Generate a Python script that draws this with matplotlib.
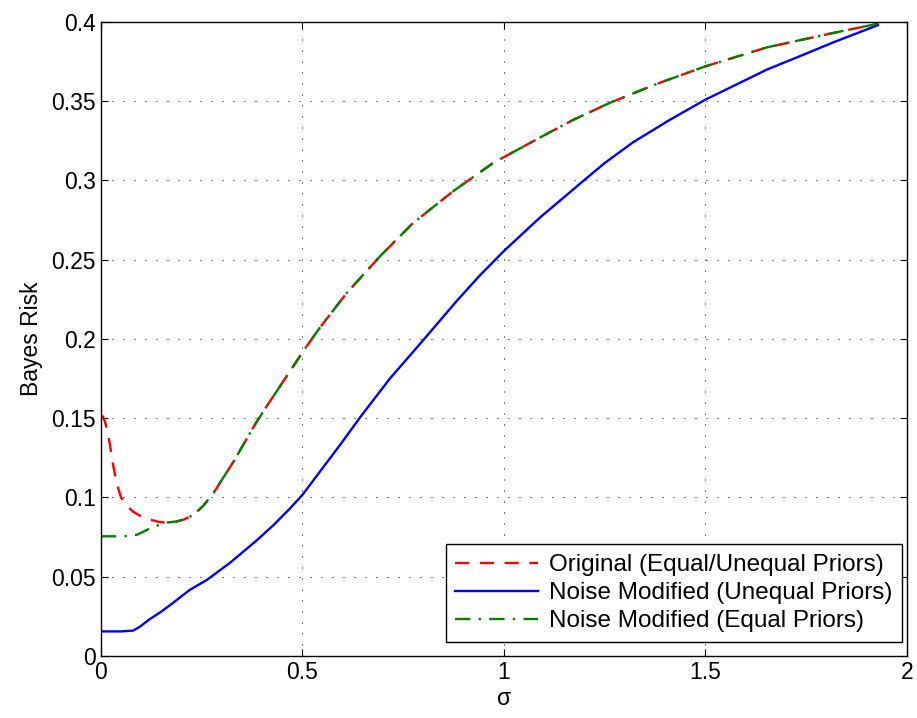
import matplotlib
matplotlib.use("Agg")
import matplotlib.pyplot as plt

plt.rcParams['font.family'] = ['Liberation Sans', 'DejaVu Sans']

# Original (Equal/Unequal Priors)
sig_orig = [0, 0.005, 0.01, 0.016, 0.022, 0.03, 0.039, 0.05, 0.06, 0.08, 0.10, 0.122,
            0.145, 0.165, 0.185, 0.205, 0.23, 0.255, 0.28, 0.305, 0.33, 0.355,
            0.38, 0.41, 0.444, 0.504, 0.543, 0.61, 0.692, 0.774, 0.873, 0.973,
            1.089, 1.17, 1.263, 1.38, 1.5, 1.653, 1.816, 1.93]
risk_orig = [0.152, 0.151, 0.148, 0.142, 0.134, 0.121, 0.109, 0.100, 0.096, 0.091, 0.088, 0.086,
             0.0845, 0.084, 0.0845, 0.086, 0.089, 0.095, 0.103, 0.113, 0.123, 0.134,
             0.145, 0.157, 0.170, 0.193, 0.207, 0.229, 0.252, 0.273, 0.293, 0.311,
             0.327, 0.338, 0.349, 0.361, 0.372, 0.384, 0.393, 0.399]

# Noise Modified (Unequal Priors)
sig_unequal = [0, 0.05, 0.08, 0.097, 0.12, 0.15, 0.179, 0.22, 0.263, 0.32, 0.387,
               0.43, 0.469, 0.50, 0.55, 0.593, 0.643, 0.717, 0.799, 0.883, 0.94,
               1.0, 1.089, 1.189, 1.25, 1.32, 1.41, 1.5, 1.653, 1.74, 1.816, 1.928]
risk_unequal = [0.0155, 0.0155, 0.016, 0.0185, 0.023, 0.028, 0.0335, 0.0416, 0.048, 0.0587, 0.073,
                0.083, 0.093, 0.1016, 0.1185, 0.133, 0.1505, 0.175, 0.199, 0.224, 0.240,
                0.2555, 0.2765, 0.298, 0.311, 0.324, 0.338, 0.351, 0.370, 0.379, 0.387, 0.398]

# Noise Modified (Equal Priors)
sig_equal = [0, 0.04, 0.07, 0.09, 0.11, 0.13, 0.15, 0.165, 0.185,
             0.205, 0.23, 0.255, 0.28, 0.305, 0.33, 0.355, 0.38, 0.41, 0.444,
             0.504, 0.543, 0.61, 0.692, 0.774, 0.873, 0.973, 1.089, 1.17, 1.263,
             1.38, 1.5, 1.653, 1.816, 1.93]
risk_equal = [0.0755, 0.0755, 0.0757, 0.0765, 0.079, 0.0815, 0.083, 0.0842, 0.0848,
              0.086, 0.089, 0.095, 0.103, 0.113, 0.123, 0.134, 0.145, 0.157, 0.170,
              0.193, 0.207, 0.229, 0.252, 0.273, 0.293, 0.311, 0.327, 0.338, 0.349,
              0.361, 0.372, 0.384, 0.393, 0.399]

fig = plt.figure(figsize=(9.17, 7.18), dpi=100)
ax = fig.add_axes([0.110, 0.0864, 0.879, 0.883])

ax.plot(sig_orig, risk_orig, color='red', lw=1.7, ls=(0, (6, 4.5)),
        label='Original (Equal/Unequal Priors)')
ax.plot(sig_unequal, risk_unequal, color='blue', lw=1.7,
        label='Noise Modified (Unequal Priors)')
ax.plot(sig_equal, risk_equal, color='green', lw=1.7, ls=(0, (6.5, 3.5, 1, 3.5)),
        label='Noise Modified (Equal Priors)')

ax.set_xlim(0, 2)
ax.set_ylim(0, 0.4)
ax.set_xticks([0, 0.5, 1, 1.5, 2])
ax.set_xticklabels(['0', '0.5', '1', '1.5', '2'])
ax.set_yticks([0, 0.05, 0.1, 0.15, 0.2, 0.25, 0.3, 0.35, 0.4])
ax.set_yticklabels(['0', '0.05', '0.1', '0.15', '0.2', '0.25', '0.3', '0.35', '0.4'])
ax.tick_params(direction='in', top=True, right=True, labelsize=16.5, length=5, width=0.8)
ax.grid(True, color='k', lw=0.72, ls=(0, (1, 10)))
for s in ax.spines.values():
    s.set_linewidth(1.0)

ax.set_xlabel('σ', fontsize=16.5, labelpad=2)
ax.set_ylabel('Bayes Risk', fontsize=16.5, labelpad=6)

leg = ax.legend(loc='lower right', bbox_to_anchor=(0.994, 0.022), borderaxespad=0,
                fontsize=17.5, fancybox=False, framealpha=1, edgecolor='k',
                handlelength=3.4, handletextpad=0.45, labelspacing=0.25,
                borderpad=0.4)
leg.get_frame().set_linewidth(1.0)

fig.savefig('out.png', dpi=100)
